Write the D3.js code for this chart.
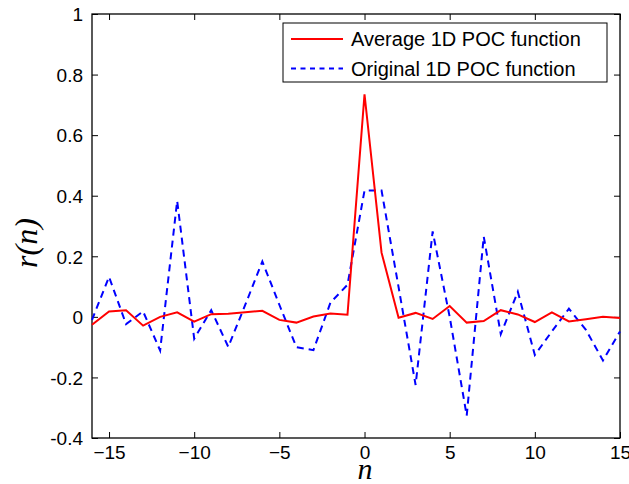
<!DOCTYPE html>
<html>
<head>
<meta charset="utf-8">
<script src="https://cdn.jsdelivr.net/npm/d3@7"></script>
<style>
  body { margin: 0; background: #fff; }
  svg { display: block; }
  text { font-family: "Liberation Sans", Arial, sans-serif; }
</style>
</head>
<body>
<svg id="chart" width="629" height="484"></svg>
<script>
// lag index n
const lags = [-16, -15, -14, -13, -12, -11, -10, -9, -8, -7, -6, -5, -4, -3, -2, -1,
              0, 1, 2, 3, 4, 5, 6, 7, 8, 9, 10, 11, 12, 13, 14, 15];

const averagePoc = [-0.026, 0.018, 0.022, -0.029, 0.000, 0.015, -0.016, 0.009, 0.010, 0.015, 0.020, -0.010, -0.019, 0.001, 0.011, 0.007,
                    0.735, 0.212, -0.003, 0.013, -0.007, 0.036, -0.019, -0.014, 0.022, 0.008, -0.017, 0.015, -0.015, -0.008, 0.000, -0.004];

const originalPoc = [-0.010, 0.132, -0.024, 0.018, -0.111, 0.383, -0.072, 0.022, -0.099, 0.040, 0.183, 0.040, -0.100, -0.110, 0.047, 0.106,
                     0.417, 0.417, 0.098, -0.225, 0.282, 0.000, -0.326, 0.265, -0.057, 0.083, -0.126, -0.048, 0.027, -0.043, -0.144, -0.048];

const xTicks = [-15, -10, -5, 0, 5, 10, 15];
const yTicks = [-0.4, -0.2, 0, 0.2, 0.4, 0.6, 0.8, 1];
const yTickLabels = ["-0.4", "-0.2", "0", "0.2", "0.4", "0.6", "0.8", "1"];

const seriesNames = ["Average 1D POC function", "Original 1D POC function"];

const margin = {top: 14, right: 9, bottom: 46, left: 92};
const width = 629, height = 484;
const boxW = width - margin.left - margin.right;
const boxH = height - margin.top - margin.bottom;

const svg = d3.select("#chart");
const g = svg.append("g")
    .attr("transform", "translate(" + margin.left + "," + margin.top + ")");

const x = d3.scaleLinear().domain([-16, 15]).range([0, boxW]);
const y = d3.scaleLinear().domain([-0.4, 1]).range([boxH, 0]);

// frame
g.append("rect")
    .attr("width", boxW)
    .attr("height", boxH)
    .attr("fill", "none")
    .attr("stroke", "#000")
    .attr("stroke-width", 1.3);

const tickLen = 6;

// bottom / top axes
const xAxisBottom = g.append("g")
    .attr("transform", "translate(0," + boxH + ")")
    .call(d3.axisBottom(x).tickValues(xTicks).tickSizeInner(-tickLen).tickSizeOuter(0)
        .tickPadding(8).tickFormat(d => d < 0 ? "\u2212" + Math.abs(d) : d));
const xAxisTop = g.append("g")
    .call(d3.axisTop(x).tickValues(xTicks).tickSizeInner(-tickLen).tickSizeOuter(0).tickFormat(""));

// left / right axes
const yAxisLeft = g.append("g")
    .call(d3.axisLeft(y).tickValues(yTicks).tickSizeInner(-tickLen).tickSizeOuter(0)
        .tickPadding(9).tickFormat((d, i) => yTickLabels[i]));
const yAxisRight = g.append("g")
    .attr("transform", "translate(" + boxW + ",0)")
    .call(d3.axisRight(y).tickValues(yTicks).tickSizeInner(-tickLen).tickSizeOuter(0).tickFormat(""));

[xAxisBottom, xAxisTop, yAxisLeft, yAxisRight].forEach(a => {
    a.select(".domain").remove();
    a.selectAll("line").attr("stroke", "#000").attr("stroke-width", 1);
    a.selectAll("text")
        .attr("fill", "#000")
        .style("font-family", "'Liberation Sans', Arial, sans-serif")
        .style("font-size", "19px");
});
xAxisBottom.selectAll("text").attr("dy", "0.71em");
yAxisLeft.selectAll("text").attr("dy", "0.36em");

// lines
const line = d3.line().x((d, i) => x(lags[i])).y(d => y(d));

g.append("path")
    .datum(originalPoc)
    .attr("d", line)
    .attr("fill", "none")
    .attr("stroke", "#0000ff")
    .attr("stroke-width", 2)
    .attr("stroke-dasharray", "7,5");

g.append("path")
    .datum(averagePoc)
    .attr("d", line)
    .attr("fill", "none")
    .attr("stroke", "#ff0000")
    .attr("stroke-width", 2);

// legend
const legend = g.append("g")
    .attr("transform", "translate(" + (283 - margin.left) + "," + (23 - margin.top) + ")");
legend.append("rect")
    .attr("width", 324)
    .attr("height", 59)
    .attr("fill", "#fff")
    .attr("stroke", "#000")
    .attr("stroke-width", 1);

const legendStyles = [
    {color: "#ff0000", dash: null},
    {color: "#0000ff", dash: "5,4.5"}
];
seriesNames.forEach((name, i) => {
    const ly = 16 + i * 29.5;
    legend.append("line")
        .attr("x1", 8).attr("x2", 60)
        .attr("y1", ly).attr("y2", ly)
        .attr("stroke", legendStyles[i].color)
        .attr("stroke-width", 2)
        .attr("stroke-dasharray", legendStyles[i].dash);
    legend.append("text")
        .attr("x", 68)
        .attr("y", ly)
        .attr("dy", "0.36em")
        .style("font-size", "20px")
        .attr("fill", "#000")
        .text(name);
});

// axis labels
svg.append("text")
    .attr("x", 365)
    .attr("y", 479)
    .attr("text-anchor", "middle")
    .style("font-family", "'Liberation Serif', 'DejaVu Serif', serif")
    .style("font-style", "italic")
    .style("font-size", "30px")
    .text("n");

svg.append("text")
    .attr("transform", "translate(37,243) rotate(-90)")
    .attr("text-anchor", "middle")
    .style("font-family", "'Liberation Serif', 'DejaVu Serif', serif")
    .style("font-style", "italic")
    .style("font-size", "32px")
    .text("r(n)");
</script>
</body>
</html>
